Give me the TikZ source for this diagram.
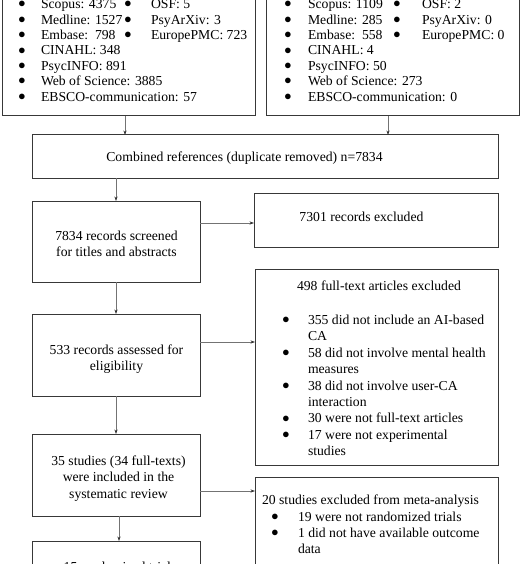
\documentclass[tikz,border=0pt]{standalone}
\usepackage{fontspec}
\setmainfont{Liberation Serif}
\usetikzlibrary{arrows.meta}
\newcommand{\bul}[1]{\makebox[#1][l]{\makebox[4.8pt]{\raisebox{0.8pt}{$\bullet$}}}}
\begin{document}
\begin{tikzpicture}[x=1pt,y=-1pt,
  box/.style={draw=black!78,line width=1pt,inner sep=0pt,outer sep=0pt},
  arr/.style={draw=black!55,line width=0.7pt,-{Stealth[length=4.5pt,width=3.2pt,black!80]}},
  txt/.style={inner sep=0pt,outer sep=0pt,font=\fontsize{13.7pt}{16.4pt}\selectfont},
  dbtxt/.style={inner sep=0pt,outer sep=0pt,align=left,anchor=base west,font=\fontsize{13.7pt}{15.4pt}\selectfont}]
\useasboundingbox (0,0) rectangle (521,564);
\clip (0,0) rectangle (521,564);
% boxes
\node[box,minimum width=253pt,minimum height=136pt] (db1) at (128.5,48) {};
\node[box,minimum width=253pt,minimum height=136pt] (db2) at (392.5,48) {};
\node[box,minimum width=466pt,minimum height=43pt] (comb) at (265,156.5) {};
\node[box,minimum width=168pt,minimum height=81pt] (scr) at (116,241.5) {};
\node[box,minimum width=244pt,minimum height=54pt] (exc1) at (376,220) {};
\node[box,minimum width=168pt,minimum height=82pt] (elig) at (116,355) {};
\node[box,minimum width=243pt,minimum height=196pt] (exc2) at (376.5,367) {};
\node[box,minimum width=168pt,minimum height=82pt] (incl) at (116,475) {};
\node[box,minimum width=243pt,minimum height=123pt] (exc3) at (376.5,538.5) {};
\node[box,minimum width=168pt,minimum height=79pt] (rct) at (116,580.5) {};
% database texts (anchor = baseline of last line)
\node[dbtxt] (db1a) at (19.6,101.1) {\bul{21.4pt}Scopus: 4375\\ \bul{21.4pt}Medline: 1527\\ \bul{21.4pt}Embase:\ \ 798\\ \bul{21.4pt}CINAHL: 348\\ \bul{21.4pt}PsycINFO: 891\\ \bul{21.4pt}Web of Science: 3885\\ \bul{21.4pt}EBSCO-communication: 57};
\node[dbtxt] (db1b) at (125.6,39.5) {\bul{25.4pt}OSF: 5\\ \bul{25.4pt}PsyArXiv: 3\\ \bul{25.4pt}EuropePMC: 723};
\node[dbtxt] (db2a) at (285.6,101.1) {\bul{22.4pt}Scopus: 1109\\ \bul{22.4pt}Medline: 285\\ \bul{22.4pt}Embase:\ \ 558\\ \bul{22.4pt}CINAHL: 4\\ \bul{22.4pt}PsycINFO: 50\\ \bul{22.4pt}Web of Science: 273\\ \bul{22.4pt}EBSCO-communication: 0};
\node[dbtxt] (db2b) at (394.6,39.5) {\bul{27.4pt}OSF: 2\\ \bul{27.4pt}PsyArXiv: 0\\ \bul{27.4pt}EuropePMC: 0};
% main texts
\node[txt,anchor=base] (combt) at (244.5,161.5) {Combined references (duplicate removed) n=7834};
\node[txt,anchor=base] (exc1t) at (361.5,221.5) {7301 records excluded};
\node[txt,anchor=base,align=center] (scrt) at (116.5,256.9) {7834 records screened\\for titles and abstracts};
\node[txt,anchor=base,align=center] (eligt) at (116.5,370.9) {533 records assessed for\\eligibility};
\node[txt,anchor=base,align=center] (inclt) at (118.5,498.3) {35 studies (34 full-texts)\\were included in the\\systematic review};
\node[txt,anchor=base] (rctt) at (120,571.5) {15 randomized trials};
\node[txt,anchor=base] (exc2h) at (379,290.5) {498 full-text articles excluded};
\node[txt,anchor=base west,align=left] (exc2l) at (283.6,455.7) {\bul{24.4pt}355 did not include an AI-based\\ \hspace*{24.4pt}CA\\ \bul{24.4pt}58 did not involve mental health\\ \hspace*{24.4pt}measures\\ \bul{24.4pt}38 did not involve user-CA\\ \hspace*{24.4pt}interaction\\ \bul{24.4pt}30 were not full-text articles\\ \bul{24.4pt}17 were not experimental\\ \hspace*{24.4pt}studies};
\node[txt,anchor=base west] (exc3h) at (262,504.5) {20 studies excluded from meta-analysis};
\node[txt,anchor=base west,align=left] (exc3l) at (272.6,553.8) {\bul{25.4pt}19 were not randomized trials\\ \bul{25.4pt}1 did not have available outcome\\ \hspace*{25.4pt}data};
% arrows
\draw[arr] ([xshift=-3.5pt]db1.south) -- ([xshift=-3.5pt]db1.south |- comb.north);
\draw[arr] ([xshift=-4.5pt]db2.south) -- ([xshift=-4.5pt]db2.south |- comb.north);
\draw[arr] (comb.south -| scr.north) -- (scr.north);
\draw[arr] ([yshift=-3pt]exc1.west -| scr.east) -- ([yshift=-3pt]exc1.west);
\draw[arr] (scr.south) -- (elig.north);
\draw[arr] ([yshift=13pt]elig.east) -- ([yshift=13pt]elig.east -| exc2.west);
\draw[arr] (elig.south) -- (incl.north);
\draw[arr] ([yshift=-16pt]incl.east) -- ([yshift=-16pt]incl.east -| exc3.west);
\draw[arr] ([xshift=3pt]incl.south) -- ([xshift=3pt]incl.south |- rct.north);
\end{tikzpicture}
\end{document}
